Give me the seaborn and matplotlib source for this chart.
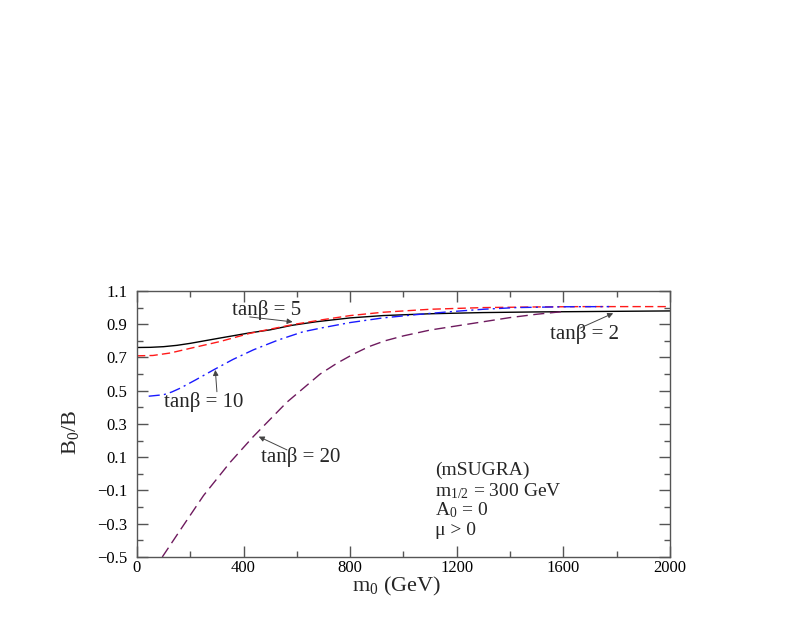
import numpy as np
import pandas as pd
import matplotlib
matplotlib.use("Agg")
import matplotlib.pyplot as plt
import seaborn as sns
from matplotlib.ticker import MultipleLocator, FixedLocator

# tan(beta) = 2, solid black
m0_tb2 = [0, 50, 100, 150, 200, 312, 423, 499, 580, 673, 800, 923, 1100, 1297, 1500, 1672, 2000]
b_tb2 = [0.76, 0.761, 0.765, 0.773, 0.785, 0.817, 0.848, 0.866, 0.893, 0.915, 0.938, 0.952,
         0.963, 0.970, 0.974, 0.976, 0.980]

# tan(beta) = 5, red dashed
m0_tb5 = [0, 60, 125, 200, 312, 423, 499, 585, 700, 800, 923, 1100, 1297, 1500, 1672, 2000]
b_tb5 = [0.71, 0.712, 0.727, 0.755, 0.796, 0.845, 0.87, 0.898, 0.928, 0.952, 0.972, 0.99,
         1.0, 1.004, 1.006, 1.006]

# tan(beta) = 10, blue dash-dot
m0_tb10 = [44, 100, 130, 162, 220, 287, 360, 437, 530, 624, 700, 800, 923, 1050, 1172, 1300,
           1422, 1600, 1772]
b_tb10 = [0.467, 0.476, 0.492, 0.515, 0.565, 0.625, 0.688, 0.746, 0.805, 0.855, 0.88, 0.91,
          0.938, 0.958, 0.975, 0.99, 1.0, 1.005, 1.006]

# tan(beta) = 20, purple dashed
m0_tb20 = [95, 170, 250, 350, 437, 562, 687, 750, 812, 870, 930, 1000, 1100, 1200, 1300, 1400,
           1500, 1610]
b_tb20 = [-0.5, -0.32, -0.13, 0.07, 0.225, 0.43, 0.6, 0.665, 0.72, 0.765, 0.8, 0.83, 0.865,
          0.89, 0.915, 0.94, 0.96, 0.978]

sns.set_theme(style="ticks")
plt.rcParams['font.family'] = ['Liberation Serif', 'DejaVu Serif']
plt.rcParams['mathtext.default'] = 'regular'

fig = plt.figure(figsize=(8.09, 6.29), dpi=100)
ax = fig.add_axes([0.1693, 0.1145, 0.6588, 0.4229])

curves = [
    (m0_tb2, b_tb2, 'black', '-'),
    (m0_tb5, b_tb5, '#ff1a1a', (0, (6, 3))),
    (m0_tb10, b_tb10, '#1a1aff', (0, (8, 3, 1.5, 3))),
    (m0_tb20, b_tb20, '#6e1a5e', (0, (8, 4))),
]
for xs, ys, col, ls in curves:
    df = pd.DataFrame({'m0': xs, 'b': ys})
    sns.lineplot(data=df, x='m0', y='b', ax=ax, color=col, linestyle=ls,
                 linewidth=1.0, estimator=None, sort=False)

ax.set_xlim(0, 2000)
ax.set_ylim(-0.5, 1.1)
ax.xaxis.set_major_locator(MultipleLocator(400))
ax.xaxis.set_minor_locator(MultipleLocator(200))
ax.yaxis.set_major_locator(FixedLocator(np.arange(-0.5, 1.15, 0.2)))
ax.yaxis.set_minor_locator(FixedLocator(np.arange(-0.4, 1.1, 0.2)))
ax.yaxis.set_major_formatter(plt.FuncFormatter(lambda v, p: ('%.1f' % v).replace('-', '\u2212')))

ax.tick_params(which='both', direction='in', top=True, right=True, colors='#555555',
               labelcolor='black', labelsize=12, width=1)
ax.tick_params(which='major', length=8)
ax.tick_params(which='minor', length=4)
ax.tick_params(axis='x', pad=2)
ax.tick_params(axis='y', pad=7)
for s in ax.spines.values():
    s.set_color('#555555')
    s.set_linewidth(1)

ax.set_xlabel('m$_0$ (GeV)', fontsize=16, va='top')
ax.xaxis.set_label_coords(0.488, -0.066)
ax.set_ylabel('B$_0$/B', fontsize=16)
ax.yaxis.set_label_coords(-0.105, 0.47)

# labels and arrows (text centre, arrow tail, arrow head)
labels = [
    ('tan\u03b2 = 5', (485, 0.986), (423, 0.944), (584, 0.914)),
    ('tan\u03b2 = 10', (251, 0.432), (300, 0.494), (294, 0.625)),
    ('tan\u03b2 = 20', (615, 0.10), (563, 0.144), (457, 0.224)),
    ('tan\u03b2 = 2', (1681, 0.841), (1662, 0.876), (1787, 0.966)),
]
for txt, pos, tail, head in labels:
    ax.text(pos[0], pos[1], txt, fontsize=15, ha='center', va='center')
    ax.annotate('', xy=head, xytext=tail,
                arrowprops=dict(arrowstyle='-|>', color='#444444', lw=0.7,
                                mutation_scale=8, shrinkA=0, shrinkB=0))

info = ['(mSUGRA)', 'm$_{1/2}$ = 300 GeV', 'A$_0$ = 0', '\u03bc > 0']
info_y = [0.023, -0.103, -0.217, -0.338]
for t, y in zip(info, info_y):
    ax.text(1118, y, t, fontsize=14, ha='left', va='center')

fig.savefig('out.png', dpi=100)
